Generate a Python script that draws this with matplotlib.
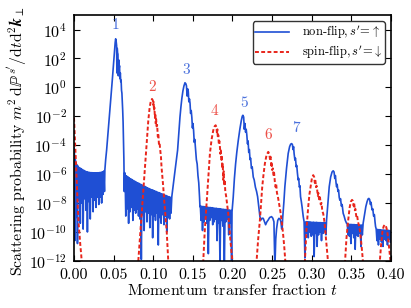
import numpy as np
import matplotlib
matplotlib.use("Agg")
import matplotlib.pyplot as plt

plt.rcParams['font.family'] = 'serif'
plt.rcParams['font.serif'] = ['cmr10', 'DejaVu Serif']
plt.rcParams['mathtext.fontset'] = 'cm'
plt.rcParams['axes.unicode_minus'] = False
plt.rcParams['axes.formatter.use_mathtext'] = True

BLUE = '#1f4fd4'
RED = '#e8251b'

# ---------------- non-flip (blue) : log10 values ----------------
b_start_t = [0.0000, 0.0006, 0.0010, 0.0014, 0.0020, 0.0024, 0.0028, 0.0032]
b_start_v = [-4.2, -4.6, -10.6, -4.9, -5.1, -9.0, -5.25, -7.5]

band1_range = [0.0035, 0.0385]
band1_top = [-5.35, -5.45, -5.55, -5.62, -5.68, -5.74, -5.79, -5.83, -5.86, -5.88,
             -5.89, -5.90, -5.91, -5.91, -5.91, -5.90, -5.89, -5.87, -5.84, -5.78]
band1_low = [-10.8, -7.8, -9.4, -8.0, -9.8, -7.7, -8.5, -10.0, -7.9, -9.1,
             -7.6, -8.6, -7.8, -8.3, -7.6, -8.1, -7.6, -8.0, -7.4, -7.2]

peak1_t = [0.0390, 0.0400, 0.0412, 0.0425, 0.0440, 0.0455, 0.0470, 0.0485, 0.0500, 0.0512,
           0.0520, 0.0526, 0.0532, 0.0538, 0.0542, 0.0546, 0.0550, 0.0555, 0.0560, 0.0565,
           0.0570, 0.0575, 0.0580, 0.0585, 0.0590, 0.0595, 0.0600, 0.0605, 0.0610, 0.0615,
           0.0620, 0.0625, 0.0630, 0.0635, 0.0640]
peak1_v = [-5.7, -5.0, -4.34, -3.5, -2.45, -1.45, -0.45, 0.6, 1.7, 2.5,
           3.1, 3.36, 3.2, 2.9, 1.0, 2.7, 2.4, 2.3, 0.8, 1.9,
           1.3, 1.5, 0.6, 1.0, 0.4, 0.5, -0.2, -0.4, -1.0, -1.6,
           -2.4, -3.6, -5.0, -7.2, -5.9]

band2_range = [0.0645, 0.1225]
band2_top = [-6.05, -6.12, -6.19, -6.26, -6.32, -6.38, -6.44, -6.50, -6.55, -6.60, -6.65,
             -6.70, -6.75, -6.80, -6.85, -6.90, -6.95, -7.00, -7.04, -7.08, -7.12, -7.16,
             -7.20, -7.24, -7.28, -7.32, -7.36, -7.40, -7.44, -7.48, -7.52, -7.56, -7.60]
band2_low = [-8.9, -8.4, -9.4, -8.6, -8.3, -9.2, -8.5, -8.7, -8.4, -8.9, -9.1,
             -11.9, -8.8, -9.9, -8.6, -9.3, -8.7, -9.7, -8.8, -10.4, -8.9, -9.2,
             -8.7, -10.9, -9.0, -9.4, -8.8, -9.5, -8.9, -10.0, -9.0, -9.1, -8.7]

peak3_t = [0.1235, 0.1250, 0.1270, 0.1290, 0.1308, 0.1325, 0.1338, 0.1350, 0.1362, 0.1375,
           0.1388, 0.1401, 0.1412, 0.1420, 0.1428, 0.1435, 0.1443, 0.1450, 0.1458, 0.1465,
           0.1472, 0.1480, 0.1488, 0.1495, 0.1502, 0.1510, 0.1518, 0.1525, 0.1535, 0.1545,
           0.1555, 0.1565, 0.1575, 0.1585, 0.1590]
peak3_v = [-7.55, -6.9, -6.0, -5.1, -4.34, -3.0, -2.05, -1.35, -0.75, -0.25,
           0.1, 0.32, 0.25, 0.1, -0.6, -0.1, -0.3, -1.0, -0.8, -1.1,
           -1.8, -1.6, -2.1, -2.8, -2.5, -3.0, -3.8, -3.6, -4.3, -5.0,
           -5.3, -6.1, -6.6, -7.6, -8.25]

band3_range = [0.1595, 0.1990]
band3_top = [-8.20, -8.22, -8.24, -8.25, -8.27, -8.28, -8.30, -8.31, -8.32, -8.34, -8.35,
             -8.36, -8.38, -8.39, -8.40, -8.42, -8.43, -8.44, -8.45, -8.47, -8.48, -8.50]
band3_low = [-9.2, -9.9, -9.3, -9.1, -9.4, -11.5, -9.2, -9.0, -9.5, -9.3, -9.1,
             -10.6, -9.4, -12.3, -9.2, -9.6, -12.5, -9.3, -9.1, -10.2, -9.4, -12.4]

peak5_t = [0.1995, 0.2010, 0.2025, 0.2040, 0.2055, 0.2074, 0.2095, 0.2112, 0.2124, 0.2132,
           0.2142, 0.2150, 0.2158, 0.2166, 0.2174, 0.2182, 0.2190, 0.2198, 0.2206, 0.2214,
           0.2222, 0.2230, 0.2240, 0.2250, 0.2263, 0.2275, 0.2290, 0.2305, 0.2318, 0.2333,
           0.2347]
peak5_v = [-8.6, -7.6, -6.3, -5.3, -4.5, -3.66, -2.85, -2.3, -2.0, -1.93,
           -2.05, -2.9, -2.5, -3.1, -2.9, -3.3, -3.9, -3.7, -4.5, -4.3,
           -5.0, -4.9, -5.6, -5.5, -6.2, -6.4, -6.9, -7.2, -7.56, -8.3,
           -8.94]

valley57_t = [0.2360, 0.2375, 0.2389, 0.2405, 0.2419, 0.2435, 0.2452, 0.2470, 0.2494, 0.2510,
              0.2524, 0.2536, 0.2547, 0.2557, 0.2572, 0.2587, 0.2600, 0.2612, 0.2622, 0.2629]
valley57_v = [-9.17, -9.05, -9.06, -9.3, -9.5, -9.3, -9.17, -9.0, -8.94, -9.05,
              -9.3, -12.5, -10.5, -9.8, -9.2, -9.06, -9.1, -9.3, -9.8, -9.6]

peak7_t = [0.2635, 0.2650, 0.2662, 0.2683, 0.2704, 0.2722, 0.2735, 0.2747, 0.2757, 0.2765,
           0.2772, 0.2779, 0.2789, 0.2796, 0.2805, 0.2812, 0.2820, 0.2830, 0.2837, 0.2845,
           0.2852, 0.2860, 0.2870, 0.2880, 0.2894, 0.2905, 0.2915, 0.2922]
peak7_v = [-9.0, -7.9, -6.87, -5.6, -4.57, -4.1, -3.93, -3.89, -3.95, -4.3,
           -4.1, -4.6, -5.03, -4.9, -5.5, -5.4, -5.9, -6.41, -6.3, -6.9,
           -6.8, -7.56, -7.9, -8.3, -8.94, -9.3, -11.8, -9.4]

band4_range = [0.2930, 0.3180]
band4_top = [-9.29, -9.30, -9.30, -9.31, -9.32, -9.32, -9.33, -9.33, -9.34, -9.35,
             -9.35, -9.36, -9.36, -9.37]
band4_low = [-10.1, -10.4, -10.0, -10.3, -10.2, -11.7, -10.1, -11.0, -10.2, -10.0,
             -10.6, -10.1, -10.0, -10.2]

peak9_t = [0.3188, 0.3205, 0.3222, 0.3240, 0.3258, 0.3272, 0.3283, 0.3292, 0.3300, 0.3308,
           0.3315, 0.3322, 0.3332, 0.3340, 0.3348, 0.3356, 0.3365, 0.3375, 0.3385, 0.3398,
           0.3410, 0.3425, 0.3441]
peak9_v = [-9.2, -8.0, -6.87, -6.2, -5.85, -5.77, -5.85, -6.3, -6.1, -6.6,
           -6.87, -6.7, -7.2, -7.1, -7.6, -7.8, -7.7, -8.2, -8.1, -8.71,
           -8.9, -9.2, -9.4]

band5_range = [0.3450, 0.3640]
band5_top = [-9.45, -9.46, -9.47, -9.48, -9.48, -9.49, -9.50, -9.50, -9.51, -9.52, -9.52]
band5_low = [-10.2, -10.3, -10.8, -10.1, -10.4, -11.2, -10.2, -10.3, -10.1, -11.0, -10.2]

peak11_t = [0.3650, 0.3668, 0.3684, 0.3700, 0.3712, 0.3722, 0.3732, 0.3742, 0.3750, 0.3758,
            0.3764, 0.3772, 0.3782, 0.3792, 0.3800, 0.3807]
peak11_v = [-9.4, -8.8, -8.25, -7.9, -7.72, -7.68, -7.75, -8.1, -7.95, -8.3,
            -8.48, -8.4, -8.9, -8.8, -9.3, -9.63]

band6_range = [0.3815, 0.3995]
band6_top = [-9.80, -9.82, -9.84, -9.85, -9.86, -9.86, -9.87, -9.88, -9.88, -9.90]
band6_low = [-10.6, -10.9, -10.5, -10.7, -11.0, -10.5, -10.6, -10.9, -10.5, -10.7]

# ---------------- spin-flip (red) : log10 values ----------------
red_t = [0.0000, 0.0010, 0.0020, 0.0030, 0.0040, 0.0050, 0.0060, 0.0070, 0.0080, 0.0090,
         0.0100, 0.0110,
         # peak 2
         0.0790, 0.0812, 0.0833, 0.0854, 0.0875, 0.0896, 0.0917, 0.0938, 0.0955, 0.0970,
         0.0985, 0.0995, 0.1000, 0.1005, 0.1010, 0.1015, 0.1022, 0.1027, 0.1032, 0.1037,
         0.1043, 0.1050, 0.1058, 0.1065, 0.1072, 0.1080, 0.1088, 0.1098, 0.1105, 0.1115,
         0.1127, 0.1140, 0.1155, 0.1170, 0.1180, 0.1190, 0.1200,
         # peak 4
         0.1610, 0.1632, 0.1650, 0.1674, 0.1695, 0.1716, 0.1737, 0.1758, 0.1775, 0.1788,
         0.1798, 0.1805, 0.1810, 0.1816, 0.1822, 0.1828, 0.1835, 0.1842, 0.1848, 0.1854,
         0.1860, 0.1866, 0.1872, 0.1878, 0.1884, 0.1890, 0.1896, 0.1902, 0.1910, 0.1920,
         0.1933, 0.1947, 0.1960, 0.1975, 0.1990, 0.2005, 0.2020,
         # peak 6
         0.2290, 0.2305, 0.2325, 0.2347, 0.2362, 0.2376, 0.2393, 0.2410, 0.2430, 0.2452,
         0.2465, 0.2475, 0.2482, 0.2490, 0.2496, 0.2502, 0.2510, 0.2518, 0.2526, 0.2535,
         0.2545, 0.2553, 0.2562, 0.2572, 0.2587, 0.2603, 0.2620, 0.2637, 0.2654, 0.2670,
         0.2685,
         # peak 8
         0.2895, 0.2915, 0.2935, 0.2957, 0.2972, 0.2986, 0.3003, 0.3020, 0.3032, 0.3040,
         0.3047, 0.3055, 0.3062, 0.3070, 0.3078, 0.3085, 0.3095, 0.3105, 0.3115, 0.3125,
         0.3135, 0.3145, 0.3157, 0.3167, 0.3180, 0.3195, 0.3209, 0.3225,
         # peak 10
         0.3400, 0.3420, 0.3440, 0.3461, 0.3480, 0.3495, 0.3510, 0.3520, 0.3530, 0.3537,
         0.3545, 0.3552, 0.3558, 0.3566, 0.3575, 0.3585, 0.3595, 0.3609, 0.3622, 0.3636,
         0.3650, 0.3665,
         # peak 12
         0.3840, 0.3861, 0.3878, 0.3895, 0.3910, 0.3924, 0.3938, 0.3953, 0.3965, 0.3980,
         0.3995, 0.4010]
red_v = [-2.1, -3.3, -4.6, -5.9, -7.2, -8.5, -9.5, -10.2, -10.9, -11.5,
         -12.2, -14.0,
         -14.0, -12.0, -10.4, -8.9, -7.3, -5.6, -3.9, -2.3, -1.4, -0.95,
         -0.8, -0.9, -1.2, -1.0, -1.6, -1.4, -2.1, -1.8, -2.5, -2.2,
         -2.7, -2.6, -3.4, -3.2, -3.9, -3.8, -4.3, -4.8, -5.5, -6.1,
         -6.9, -7.9, -8.9, -9.9, -11.0, -12.0, -14.0,
         -14.0, -12.0, -10.0, -8.0, -6.2, -4.57, -3.6, -2.97, -2.7, -2.62,
         -2.75, -3.2, -2.9, -3.5, -3.3, -3.9, -3.7, -4.1, -4.6, -4.3,
         -5.0, -4.8, -5.6, -5.3, -6.4, -5.8, -6.8, -6.4, -7.2, -7.5,
         -8.1, -8.71, -9.6, -10.6, -11.5, -12.3, -14.0,
         -14.0, -12.0, -10.5, -9.17, -8.0, -6.9, -6.0, -5.26, -4.7, -4.46,
         -4.6, -5.0, -4.8, -5.4, -5.2, -5.72, -5.6, -6.1, -5.9, -6.5,
         -6.9, -6.7, -7.3, -7.5, -8.0, -8.5, -9.17, -10.0, -11.0, -12.2,
         -14.0,
         -14.0, -12.0, -9.8, -8.25, -7.4, -6.9, -6.3, -6.07, -6.2, -6.6,
         -6.4, -6.9, -6.8, -7.1, -7.5, -7.3, -7.8, -7.6, -8.1, -8.0,
         -8.6, -8.7, -9.1, -9.6, -10.4, -11.3, -12.2, -14.0,
         -14.0, -12.2, -10.4, -9.2, -8.3, -7.9, -7.78, -7.85, -8.2, -8.0,
         -8.5, -8.4, -8.7, -9.0, -8.9, -9.3, -9.5, -9.9, -10.5, -11.3,
         -12.2, -14.0,
         -14.0, -12.0, -10.8, -9.9, -9.6, -9.5, -9.6, -9.9, -10.4, -11.2,
         -12.0, -13.0]

# peak labels
lab_text = ['1', '2', '3', '4', '5', '6', '7']
lab_t = [0.0526, 0.0985, 0.1413, 0.1775, 0.2150, 0.2456, 0.2800]
lab_log = [4.28, 0.0, 1.22, -1.66, -1.12, -3.31, -2.85]
lab_series = ['b', 'r', 'b', 'r', 'b', 'r', 'b']


def band(rng, top, low):
    n = len(top)
    tt = np.linspace(rng[0], rng[1], 2 * n)
    vv = np.empty(2 * n)
    vv[0::2] = top
    vv[1::2] = low
    return list(tt), list(vv)


segs_t = [b_start_t]
segs_v = [b_start_v]
for kind, a, b, c in [
    ('b', band1_range, band1_top, band1_low), ('p', peak1_t, peak1_v, None),
    ('b', band2_range, band2_top, band2_low), ('p', peak3_t, peak3_v, None),
    ('b', band3_range, band3_top, band3_low), ('p', peak5_t, peak5_v, None),
    ('p', valley57_t, valley57_v, None), ('p', peak7_t, peak7_v, None),
    ('b', band4_range, band4_top, band4_low), ('p', peak9_t, peak9_v, None),
    ('b', band5_range, band5_top, band5_low), ('p', peak11_t, peak11_v, None),
    ('b', band6_range, band6_top, band6_low)]:
    if kind == 'b':
        tt, vv = band(a, b, c)
    else:
        tt, vv = a, b
    segs_t.append(tt)
    segs_v.append(vv)

blue_t = np.concatenate(segs_t)
blue_y = 10.0 ** np.concatenate(segs_v)
red_y = 10.0 ** np.array(red_v)

fig = plt.figure(figsize=(4.11, 3.08), dpi=100)
ax = fig.add_axes([0.180, 0.153, 0.771, 0.798])

ax.plot(blue_t, blue_y, color=BLUE, lw=1.2, label=r"non-flip$,s'\!=\!\uparrow$")
ax.plot(red_t, red_y, color=RED, lw=1.4, ls='--', dashes=(2.0, 1.2),
        label=r"spin-flip$,s'\!=\!\downarrow$")

for txt, t, lg, s in zip(lab_text, lab_t, lab_log, lab_series):
    ax.text(t, 10.0 ** lg, txt, color=BLUE if s == 'b' else RED, alpha=0.8,
            ha='center', va='center', fontsize=11)

ax.set_yscale('log')
ax.set_xlim(0.0, 0.40)
ax.set_ylim(1e-12, 1e5)
ax.set_xticks(np.arange(0, 0.401, 0.05))
ax.set_xticklabels(['%.2f' % v for v in np.arange(0, 0.401, 0.05)])
ax.set_yticks([10.0 ** k for k in range(-12, 5, 2)])
ax.yaxis.set_major_formatter(matplotlib.ticker.LogFormatterMathtext())
ax.minorticks_off()
ax.tick_params(direction='in', top=True, right=True, length=4, width=0.8,
               labelsize=11.5, pad=5)
for sp in ax.spines.values():
    sp.set_linewidth(1.2)

ax.set_xlabel(r"Momentum transfer fraction $t$", fontsize=11.5, labelpad=1)
ax.set_ylabel(r"Scattering probability $m^2\,\mathrm{d}\mathbb{P}^{s'}/\mathrm{d}t\mathrm{d}^2\boldsymbol{k}_{\perp}$",
              fontsize=11.4)
ax.yaxis.set_label_coords(-0.142, 0.488)

leg = ax.legend(loc='upper right', fontsize=9, handlelength=2.7, fancybox=True,
                framealpha=1.0, borderaxespad=0.5, handletextpad=1.0,
                borderpad=0.2, labelspacing=0.2)
leg.get_frame().set_edgecolor('#333333')

fig.savefig('out.png', dpi=100)
